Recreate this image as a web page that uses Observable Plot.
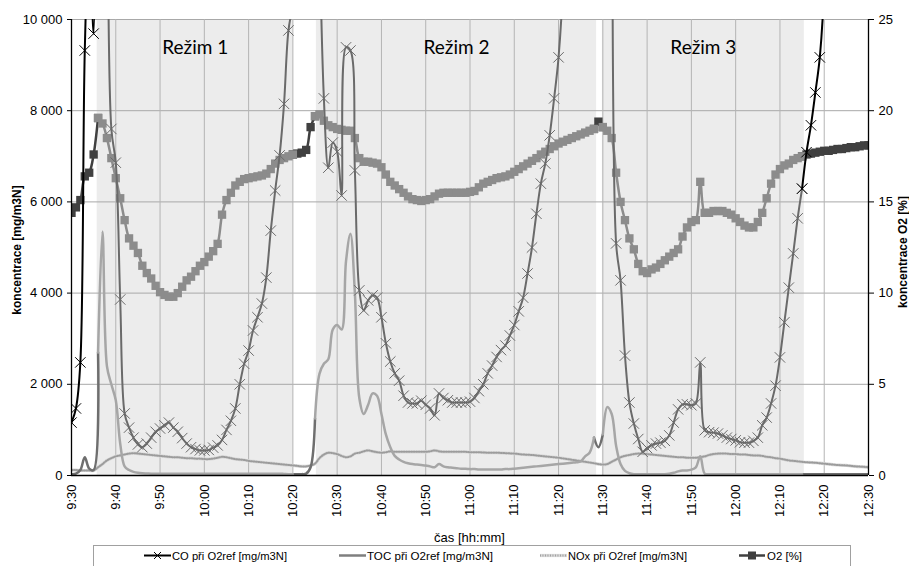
<!DOCTYPE html>
<html><head><meta charset="utf-8">
<script src="https://cdn.jsdelivr.net/npm/d3@7"></script>
<script src="https://cdn.jsdelivr.net/npm/@observablehq/plot@0.6"></script>
<style>
body{margin:0;background:#fff;font-family:"Liberation Sans",Arial,sans-serif;}
#wrap{position:relative;width:909px;height:566px;overflow:hidden;}
.t{position:absolute;white-space:nowrap;color:#000;}
</style></head><body><div id="wrap"></div>
<script>
// time axis: minutes after 9:30, one reading per minute
const startMinute = 9 * 60 + 30;
const co = [1160,1470,2480,9320,12000,9690,20000,25000,15000,7600,
6860,3860,1360,1050,830,680,620,700,830,960,
1030,1100,1160,1050,960,820,700,620,580,550,
550,560,610,660,780,1000,1200,1470,2000,2450,
2740,3180,3470,3770,4340,5370,6250,7020,8150,9760,
10300,20000,25000,25000,25000,20000,12000,8270,6750,7300,
7100,6140,9390,9320,6690,4060,3620,3840,3950,3900,
3470,2900,2500,2240,2080,1750,1600,1580,1580,1640,
1550,1470,1320,1800,1700,1650,1600,1600,1600,1600,
1620,1700,1850,2000,2240,2410,2600,2750,2850,3070,
3300,3600,3900,4430,5000,5740,6400,6840,7460,8270,
9170,10800,16000,20000,25000,25000,25000,25000,25000,25000,
25000,25000,14000,5090,4280,2630,1600,1140,800,520,
600,660,700,720,760,880,1160,1450,1560,1560,
1540,1580,2480,990,950,940,920,880,830,800,
770,730,720,720,760,830,1100,1270,1580,1970,
2590,3360,4120,4870,5640,6290,7090,7680,8400,9170,
10800,20000,25000,25000,25000,25000,25000,25000,25000,25000,25000];
const toc = [30,40,120,400,150,120,2700,5350,2400,2000,
1650,700,200,120,80,60,50,45,40,40,
40,40,40,40,40,40,40,40,40,40,
40,40,40,40,40,40,40,40,40,40,
40,40,40,40,40,40,40,40,35,30,
30,30,30,40,180,1250,2230,2450,2550,3200,
3300,3200,4700,5300,4000,1700,1350,1550,1800,1750,
1350,900,620,430,350,300,270,250,240,230,
220,200,180,250,200,180,170,160,150,150,
140,140,130,130,130,130,130,130,140,140,
150,160,170,180,190,200,210,220,230,240,
250,260,270,280,290,310,420,500,830,620,
900,1500,1350,650,250,100,50,30,30,30,
30,30,30,30,30,40,60,90,110,110,
130,180,420,40,30,30,30,30,30,30,
30,30,30,30,30,30,30,30,30,30,
30,30,30,30,30,30,28,28,28,28,
25,25,25,25,25,25,25,25,25,25,25];
const nox = [120,120,110,110,110,110,180,250,330,380,
420,440,460,480,490,480,470,460,450,440,
430,420,410,400,400,390,380,380,370,370,
360,360,370,390,410,400,380,360,350,340,
320,310,300,290,280,270,260,250,240,230,
220,210,200,200,220,260,380,460,500,490,
470,430,400,420,480,500,530,550,530,510,
500,510,530,520,520,520,520,520,520,520,
520,530,550,530,520,520,520,520,520,520,
510,510,510,505,500,500,500,495,490,485,
480,470,460,455,450,440,430,420,410,400,
390,375,360,345,330,315,300,285,270,250,
240,250,300,350,400,430,450,470,480,480,
470,460,450,440,430,420,410,400,400,390,
390,390,400,420,450,470,480,480,480,470,
470,460,460,450,440,440,430,410,400,380,
370,350,330,320,310,300,290,285,280,270,
260,250,240,230,225,220,210,200,195,190,180];
const o2 = [14.4,14.7,15.1,16.4,16.6,17.6,19.6,19.3,18.5,17.4,
16.3,15.2,14.0,13.0,12.6,12.2,11.5,11.1,10.8,10.4,
10.05,9.9,9.8,9.8,10.0,10.35,10.7,10.9,11.2,11.5,
11.7,12.0,12.3,12.7,14.3,15.1,15.5,15.9,16.1,16.25,
16.3,16.35,16.4,16.45,16.55,16.8,17.1,17.3,17.4,17.5,
17.6,17.65,17.7,17.85,19.1,19.7,19.8,19.45,19.2,19.1,
19.0,18.95,18.9,18.9,18.5,17.4,17.2,17.2,17.15,17.1,
16.9,16.5,16.1,15.9,15.7,15.5,15.3,15.15,15.1,15.05,
15.1,15.15,15.3,15.45,15.5,15.5,15.5,15.5,15.5,15.5,
15.55,15.6,15.8,16.0,16.1,16.2,16.3,16.35,16.4,16.5,
16.65,16.8,16.95,17.1,17.25,17.4,17.6,17.75,17.9,18.05,
18.2,18.3,18.4,18.5,18.6,18.7,18.8,18.9,19.0,19.4,
19.1,18.9,18.5,16.6,15.0,14.0,13.0,12.4,11.6,11.2,
11.1,11.3,11.4,11.6,11.8,12.0,12.2,12.4,13.1,13.6,
13.9,14.0,16.1,14.4,14.4,14.5,14.5,14.5,14.4,14.3,
14.1,13.9,13.7,13.6,13.6,13.9,14.4,15.2,16.0,16.5,
16.8,17.0,17.1,17.3,17.4,17.5,17.6,17.65,17.7,17.75,
17.8,17.8,17.85,17.9,17.9,17.95,18.0,18.0,18.05,18.1,18.1];

// operating regimes (minutes after 9:30)
const regimeNames = ["Režim 1", "Režim 2", "Režim 3"];
const regimeStart = [5.8, 55.3, 119.9];
const regimeEnd = [50.1, 118.6, 165.5];
// series segments: outside / regime / outside ... (indices of readings)
const segmentBreaks = [0, 6, 50, 55, 118, 120, 165, 180];

const leftTicks = [0, 2000, 4000, 6000, 8000, 10000];
const rightTicks = [0, 5, 10, 15, 20, 25];
const timeTicks = d3.range(0, 181, 10);
const o2Factor = 10000 / 25;

const rows = [];
for (let k = 0; k < segmentBreaks.length - 1; k++) {
  for (let i = segmentBreaks[k]; i <= segmentBreaks[k + 1]; i++) {
    rows.push({t: i, co: co[i], toc: toc[i], nox: nox[i], o2: o2[i], seg: k, inside: k % 2 === 1});
  }
}
const inside = rows.filter(d => d.inside);
const outside = rows.filter(d => !d.inside);
const noxRows = nox.map((v, i) => ({t: i, nox: v}));
const regimes = regimeNames.map((n, i) => ({name: n, x1: regimeStart[i], x2: regimeEnd[i]}));

const fmtTime = m => { const v = startMinute + m; return Math.floor(v / 60) + ":" + String(v % 60).padStart(2, "0"); };
const fmtThousands = d => d3.format(",")(d).replace(/,/g, " ");

const curve = "catmull-rom";
const chart = Plot.plot({
  width: 909, height: 540,
  marginLeft: 71, marginRight: 41, marginTop: 19, marginBottom: 65,
  style: {fontFamily: "'Liberation Sans', Arial, sans-serif", fontSize: "13px", color: "#000", background: "transparent"},
  x: {domain: [0, 180]},
  y: {domain: [0, 10000]},
  marks: [
    Plot.rect(regimes, {x1: "x1", x2: "x2", y1: 0, y2: 10000, fill: "#ececec"}),
    Plot.ruleY(leftTicks, {stroke: "#a8a8a8", strokeWidth: 1}),
    Plot.ruleX(timeTicks, {stroke: "#b4b4b4", strokeWidth: 1}),
    // O2 (right axis)
    Plot.line(outside, {x: "t", y: d => d.o2 * o2Factor, z: "seg", stroke: "#404040", strokeWidth: 2.5, curve, clip: true}),
    Plot.line(inside, {x: "t", y: d => d.o2 * o2Factor, z: "seg", stroke: "#8c8c8c", strokeWidth: 2.5, curve, clip: true}),
    Plot.dot(outside, {x: "t", y: d => d.o2 * o2Factor, symbol: "square", r: 4.7, fill: "#404040", clip: true}),
    Plot.dot(inside, {x: "t", y: d => d.o2 * o2Factor, symbol: "square", r: 4.7, fill: "#8c8c8c", clip: true}),
    // NOx (dotted)
    Plot.line(noxRows, {x: "t", y: "nox", stroke: "#d8d8d8", strokeWidth: 3.2, curve, clip: true}),
    Plot.line(noxRows, {x: "t", y: "nox", stroke: "#9c9c9c", strokeWidth: 2, strokeDasharray: "0.9,1.6", curve, clip: true}),
    // TOC
    Plot.line(outside, {x: "t", y: "toc", z: "seg", stroke: "#6e6e6e", strokeWidth: 2.5, curve, clip: true}),
    Plot.line(inside, {x: "t", y: "toc", z: "seg", stroke: "#a6a6a6", strokeWidth: 2.5, curve, clip: true}),
    // CO
    Plot.line(inside, {x: "t", y: "co", z: "seg", stroke: "#6a6a6a", strokeWidth: 2, curve, clip: true}),
    Plot.dot(inside, {x: "t", y: "co", symbol: "times", r: 4.8, stroke: "#6a6a6a", strokeWidth: 1, clip: true}),
    Plot.line(outside, {x: "t", y: "co", z: "seg", stroke: "#000", strokeWidth: 2, curve, clip: true}),
    Plot.dot(outside, {x: "t", y: "co", symbol: "times", r: 4.8, stroke: "#000", strokeWidth: 1, clip: true}),
    // regime labels
    Plot.text(regimes, {x: d => (d.x1 + d.x2) / 2, frameAnchor: "top", dy: 28, text: "name", fontFamily: "Lato, 'Open Sans', sans-serif", fontSize: 19, fill: "#000", lineAnchor: "middle"}),
    // axes
    Plot.ruleX([0, 180], {stroke: "#000", strokeWidth: 1.3}),
    Plot.ruleY([0], {stroke: "#000", strokeWidth: 1.3}),
    Plot.axisY({ticks: leftTicks, tickFormat: fmtThousands, tickSize: 4, tickPadding: 5, label: null}),
    Plot.axisY({anchor: "right", ticks: rightTicks.map(v => v * o2Factor), tickFormat: d => d / o2Factor, tickSize: 5, tickPadding: 5, label: null}),
    Plot.axisX({ticks: timeTicks, tickFormat: fmtTime, tickRotate: -90, tickSize: 0, tickPadding: 9, label: null})
  ]
});
const wrap = document.getElementById("wrap");
chart.style.position = "absolute"; chart.style.left = "0"; chart.style.top = "0";
wrap.appendChild(chart);

function addText(txt, css) {
  const s = document.createElement("span");
  s.className = "t"; s.textContent = txt; s.style.cssText += css; wrap.appendChild(s);
}
addText("koncentrace [mg/m3N]", "left:17px;top:250px;transform:translate(-50%,-50%) rotate(-90deg);font-weight:bold;font-size:12px;");
addText("koncentrace O2 [%]", "left:903px;top:252px;transform:translate(-50%,-50%) rotate(-90deg);font-weight:bold;font-size:12px;");
addText("čas [hh:mm]", "left:469.5px;top:537px;transform:translate(-50%,-50%);font-size:13px;");

// legend
const legendItems = [
  {label: "CO při O2ref [mg/m3N]", x: 144, w: 115, kind: "co"},
  {label: "TOC při O2ref [mg/m3N]", x: 339, w: 126, kind: "toc"},
  {label: "NOx při O2ref [mg/m3N]", x: 540, w: 119, kind: "nox"},
  {label: "O2 [%]", x: 739, w: 35, kind: "o2"}
];
const ns = "http://www.w3.org/2000/svg";
const lg = document.createElementNS(ns, "svg");
lg.setAttribute("width", 909); lg.setAttribute("height", 26);
lg.style.cssText = "position:absolute;left:0;top:544px;";
const lsel = d3.select(lg);
lsel.append("rect").attr("x", 93.5).attr("y", 1.5).attr("width", 757).attr("height", 40).attr("fill", "none").attr("stroke", "#a0a0a0");
const cy = 11.5;
for (const it of legendItems) {
  const g = lsel.append("g").attr("transform", `translate(${it.x},${cy})`);
  if (it.kind === "co") {
    g.append("line").attr("x1", 0).attr("x2", 27).attr("stroke", "#000").attr("stroke-width", 2);
    g.append("path").attr("d", "M10,-3.5L17,3.5M10,3.5L17,-3.5").attr("stroke", "#000").attr("stroke-width", 1);
  } else if (it.kind === "toc") {
    g.append("line").attr("x1", 0).attr("x2", 27).attr("stroke", "#7f7f7f").attr("stroke-width", 2.5);
  } else if (it.kind === "nox") {
    g.append("line").attr("x1", 0).attr("x2", 27).attr("stroke", "#d8d8d8").attr("stroke-width", 3.2);
    g.append("line").attr("x1", 0).attr("x2", 27).attr("stroke", "#9c9c9c").attr("stroke-width", 2).attr("stroke-dasharray", "0.9,1.6");
  } else {
    g.append("line").attr("x1", 0).attr("x2", 26).attr("stroke", "#404040").attr("stroke-width", 2.5);
    g.append("rect").attr("x", 9).attr("y", -4).attr("width", 8).attr("height", 8).attr("fill", "#404040");
  }
  g.append("text").attr("x", 28).attr("y", 0).attr("dy", "0.35em").attr("font-size", 11.5)
    .attr("textLength", it.w).attr("lengthAdjust", "spacingAndGlyphs")
    .attr("font-family", "'Liberation Sans',sans-serif").attr("fill", "#000").text(it.label);
}
wrap.appendChild(lg);
</script></body></html>
